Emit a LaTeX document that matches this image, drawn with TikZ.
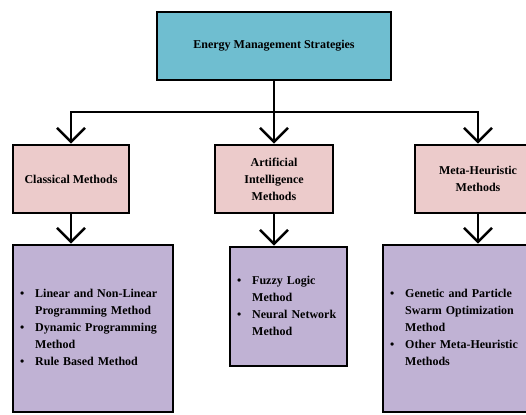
\documentclass[tikz,border=0pt]{standalone}
\usepackage{fontspec}
\setmainfont{Liberation Serif}
\usetikzlibrary{arrows.meta}

\definecolor{topblue}{RGB}{111,190,208}
\definecolor{catpink}{RGB}{236,203,203}
\definecolor{listlilac}{RGB}{192,178,212}

\begin{document}
\begin{tikzpicture}[x=1pt, y=-1pt]
\tikzset{every node/.style={font=\fontsize{12}{17}\selectfont\bfseries}}
\tikzset{box/.style={draw, line width=2.6pt, inner sep=0pt}}
\tikzset{headbox/.style={box, fill=topblue, minimum width=234pt, minimum height=68pt}}
\tikzset{catbox/.style={box, fill=catpink, minimum height=68pt, align=center}}
\tikzset{listbox/.style={box, fill=listlilac, inner xsep=7pt, align=left}}
\tikzset{link/.style={line width=2.6pt}}
\tikzset{arr/.style={link, -{Straight Barb[length=14pt, width=28pt]}}}
\useasboundingbox (0,0) rectangle (526,414);

\node[headbox] (ems) at (274,46) {Energy Management Strategies};

\node[catbox, minimum width=116pt] (cls) at (71,179) {Classical Methods};
\node[catbox, minimum width=118pt] (ai) at (274,179) {Artificial\\Intelligence\\Methods};
\node[catbox, minimum width=126pt] (meta) at (478,179) {Meta-Heuristic\\Methods};

\node[listbox, text width=146pt, minimum height=167pt] (clslist) at (93,328.5) {%
\begin{tabular}{@{}l@{\hspace{11pt}}l@{}}
\textbullet & Linear and Non-Linear\\
 & Programming Method\\
\textbullet & Dynamic Programming\\
 & Method\\
\textbullet & Rule Based Method
\end{tabular}};
\node[listbox, text width=103pt, minimum height=119pt] (ailist) at (288.5,306.5) {%
\begin{tabular}{@{}l@{\hspace{11pt}}l@{}}
\textbullet & Fuzzy Logic\\
 & Method\\
\textbullet & Neural Network\\
 & Method
\end{tabular}};
\node[listbox, text width=176pt, minimum height=167pt] (metalist) at (478,328.5) {%
\begin{tabular}{@{}l@{\hspace{11pt}}l@{}}
\textbullet & Genetic and Particle\\
 & Swarm Optimization\\
 & Method\\
\textbullet & Other Meta-Heuristic\\
 & Methods
\end{tabular}};

% top level split
\coordinate (hub) at (274,112);
\draw[link] (ems.south) -- (hub);
\draw[arr] (hub) -| (cls.north);
\draw[arr] (hub) -- (ai.north);
\draw[arr] (hub) -| (meta.north);

% categories to their lists
\draw[arr] (cls.south) -- (cls.south |- clslist.north);
\draw[arr] (ai.south) -- (ai.south |- ailist.north);
\draw[arr] (meta.south) -- (metalist.north);
\end{tikzpicture}
\end{document}
